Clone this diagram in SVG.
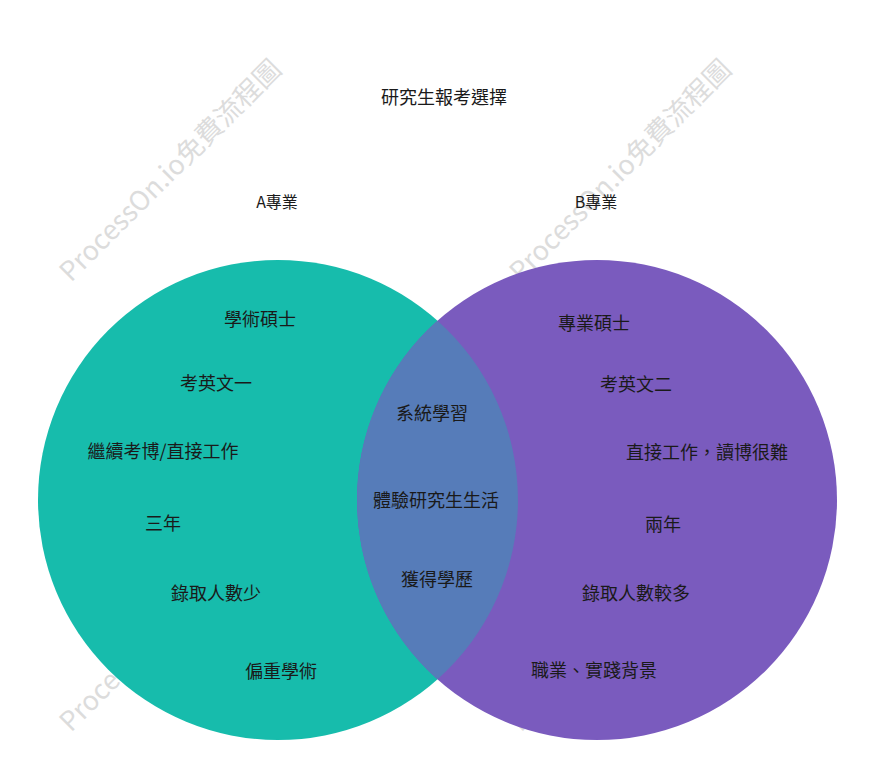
<svg xmlns="http://www.w3.org/2000/svg" width="873" height="777" viewBox="0 0 873 777">
<style>
.t{font-family:"Noto Sans CJK TC","Noto Sans CJK SC",sans-serif;font-size:18px;fill:#1a1a1a;text-anchor:middle;dominant-baseline:central}
.h{font-size:16px}
.wm{font-family:"Noto Sans CJK TC","Noto Sans CJK SC",sans-serif;font-size:27px;fill:#dcdcdc}
</style>
<rect width="873" height="777" fill="#ffffff"/>
<g id="watermarks">
<text class="wm" transform="translate(71,283) rotate(-45)">ProcessOn.io免費流程圖</text>
<text class="wm" transform="translate(521,283) rotate(-45)">ProcessOn.io免費流程圖</text>
<text class="wm" transform="translate(71,733) rotate(-45)">ProcessOn.io免費流程圖</text>
<text class="wm" transform="translate(521,733) rotate(-45)">ProcessOn.io免費流程圖</text>
</g>
<g id="title"><text class="t" x="444" y="96">研究生報考選擇</text></g>
<g id="labelA"><text class="t h" x="277" y="201">A專業</text></g>
<g id="labelB"><text class="t h" x="596" y="201">B專業</text></g>
<g id="circleA"><circle cx="278" cy="500" r="240" fill="#17bcac"/></g>
<g id="circleB"><circle cx="597" cy="500" r="240" fill="#7a5bbe"/></g>
<g id="overlap"><path d="M437.5,320.7 A240,240 0 0 1 437.5,679.3 A240,240 0 0 1 437.5,320.7 Z" fill="#567cb9"/></g>
<g id="textsA">
<text class="t" x="260" y="318">學術碩士</text>
<text class="t" x="216" y="382">考英文一</text>
<text class="t" x="163" y="450">繼續考博/直接工作</text>
<text class="t" x="163" y="522">三年</text>
<text class="t" x="216" y="592">錄取人數少</text>
<text class="t" x="281" y="670">偏重學術</text>
</g>
<g id="textsB">
<text class="t" x="594" y="322">專業碩士</text>
<text class="t" x="636" y="383">考英文二</text>
<text class="t" x="707" y="451">直接工作，讀博很難</text>
<text class="t" x="663" y="523">兩年</text>
<text class="t" x="636" y="592">錄取人數較多</text>
<text class="t" x="594" y="669">職業、實踐背景</text>
</g>
<g id="textsAB">
<text class="t" x="432" y="412">系統學習</text>
<text class="t" x="436" y="499">體驗研究生生活</text>
<text class="t" x="437" y="578">獲得學歷</text>
</g>
<g id="connectors"></g>
</svg>
